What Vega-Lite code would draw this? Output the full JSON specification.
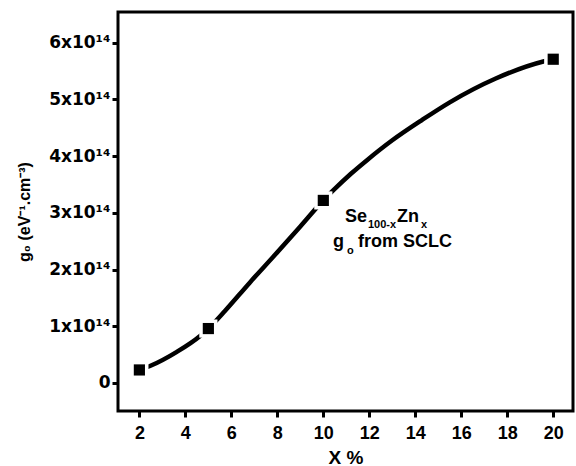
{
  "$schema": "https://vega.github.io/schema/vega-lite/v6.json",
  "width": 455,
  "height": 399,
  "autosize": {"type": "none"},
  "padding": {"left": 118, "top": 12, "right": 3, "bottom": 55},
  "background": "white",
  "config": {
    "view": {"stroke": "black", "strokeWidth": 3},
    "axis": {"grid": false, "domain": false, "tickColor": "black", "tickWidth": 3, "tickSize": 6, "labelColor": "black", "titleColor": "black", "labelFontWeight": "bold", "titleFontWeight": "bold"},
    "text": {"font": "Liberation Sans", "fontWeight": "bold", "align": "left", "baseline": "alphabetic", "color": "black"}
  },
  "datasets": {
    "curve": [
      {"x": 2.0, "y": 2.3e13},
      {"x": 2.46, "y": 3.0e13},
      {"x": 3.63, "y": 5.5e13},
      {"x": 4.64, "y": 8.3e13},
      {"x": 5.0, "y": 9.6e13},
      {"x": 5.72, "y": 1.27e14},
      {"x": 6.8, "y": 1.77e14},
      {"x": 7.9, "y": 2.26e14},
      {"x": 9.0, "y": 2.76e14},
      {"x": 10.0, "y": 3.22e14},
      {"x": 10.44, "y": 3.40e14},
      {"x": 11.2, "y": 3.69e14},
      {"x": 11.9, "y": 3.93e14},
      {"x": 13.0, "y": 4.28e14},
      {"x": 14.3, "y": 4.64e14},
      {"x": 15.5, "y": 4.95e14},
      {"x": 17.5, "y": 5.37e14},
      {"x": 19.57, "y": 5.67e14},
      {"x": 20.0, "y": 5.71e14}
    ],
    "points": [
      {"x": 2, "y": 2.3e13},
      {"x": 5, "y": 9.6e13},
      {"x": 10, "y": 3.22e14},
      {"x": 20, "y": 5.71e14}
    ],
    "one": [{"k": 1}]
  },
  "layer": [
    {
      "data": {"name": "curve"},
      "mark": {"type": "line", "interpolate": "monotone", "color": "black", "strokeWidth": 4.5},
      "encoding": {
        "x": {"field": "x", "type": "quantitative", "scale": {"domain": [1.07, 20.86], "nice": false, "zero": false},
          "axis": {"values": [2, 4, 6, 8, 10, 12, 14, 16, 18, 20], "labelFont": "Liberation Sans", "labelFontSize": 18, "labelPadding": 7, "title": "X %", "titleFont": "Liberation Sans", "titleFontSize": 19, "titlePadding": 6}},
        "y": {"field": "y", "type": "quantitative", "scale": {"domain": [-4.94e13, 6.543e14], "nice": false, "zero": false},
          "axis": {"values": [0, 1e14, 2e14, 3e14, 4e14, 5e14, 6e14], "labelExpr": "datum.value == 0 ? '0' : format(datum.value / 1e14, 'd') + 'x10¹⁴'", "labelFont": "DejaVu Sans", "labelFontSize": 17, "labelPadding": 2, "title": "g₀ (eV⁻¹.cm⁻³)", "titleFont": "Liberation Sans", "titleFontSize": 16, "titlePadding": 16}}
      }
    },
    {
      "data": {"name": "points"},
      "mark": {"type": "point", "shape": "square", "filled": true, "color": "white", "size": 330, "opacity": 1},
      "encoding": {
        "x": {"field": "x", "type": "quantitative"},
        "y": {"field": "y", "type": "quantitative"}
      }
    },
    {
      "data": {"name": "points"},
      "mark": {"type": "point", "shape": "square", "filled": true, "color": "black", "size": 125, "opacity": 1},
      "encoding": {
        "x": {"field": "x", "type": "quantitative"},
        "y": {"field": "y", "type": "quantitative"}
      }
    },
    {
      "data": {"name": "one"},
      "mark": {"type": "text", "text": "Se", "fontSize": 18},
      "encoding": {"x": {"datum": 10.94, "type": "quantitative"}, "y": {"datum": 2.84e14, "type": "quantitative"}}
    },
    {
      "data": {"name": "one"},
      "mark": {"type": "text", "text": "100-x", "fontSize": 11},
      "encoding": {"x": {"datum": 11.94, "type": "quantitative"}, "y": {"datum": 2.73e14, "type": "quantitative"}}
    },
    {
      "data": {"name": "one"},
      "mark": {"type": "text", "text": "Zn", "fontSize": 18},
      "encoding": {"x": {"datum": 13.2, "type": "quantitative"}, "y": {"datum": 2.84e14, "type": "quantitative"}}
    },
    {
      "data": {"name": "one"},
      "mark": {"type": "text", "text": "x", "fontSize": 11},
      "encoding": {"x": {"datum": 14.25, "type": "quantitative"}, "y": {"datum": 2.73e14, "type": "quantitative"}}
    },
    {
      "data": {"name": "one"},
      "mark": {"type": "text", "text": "g", "fontSize": 18},
      "encoding": {"x": {"datum": 10.42, "type": "quantitative"}, "y": {"datum": 2.40e14, "type": "quantitative"}}
    },
    {
      "data": {"name": "one"},
      "mark": {"type": "text", "text": "o", "fontSize": 11},
      "encoding": {"x": {"datum": 11.03, "type": "quantitative"}, "y": {"datum": 2.275e14, "type": "quantitative"}}
    },
    {
      "data": {"name": "one"},
      "mark": {"type": "text", "text": "from SCLC", "fontSize": 18},
      "encoding": {"x": {"datum": 11.51, "type": "quantitative"}, "y": {"datum": 2.40e14, "type": "quantitative"}}
    }
  ]
}
